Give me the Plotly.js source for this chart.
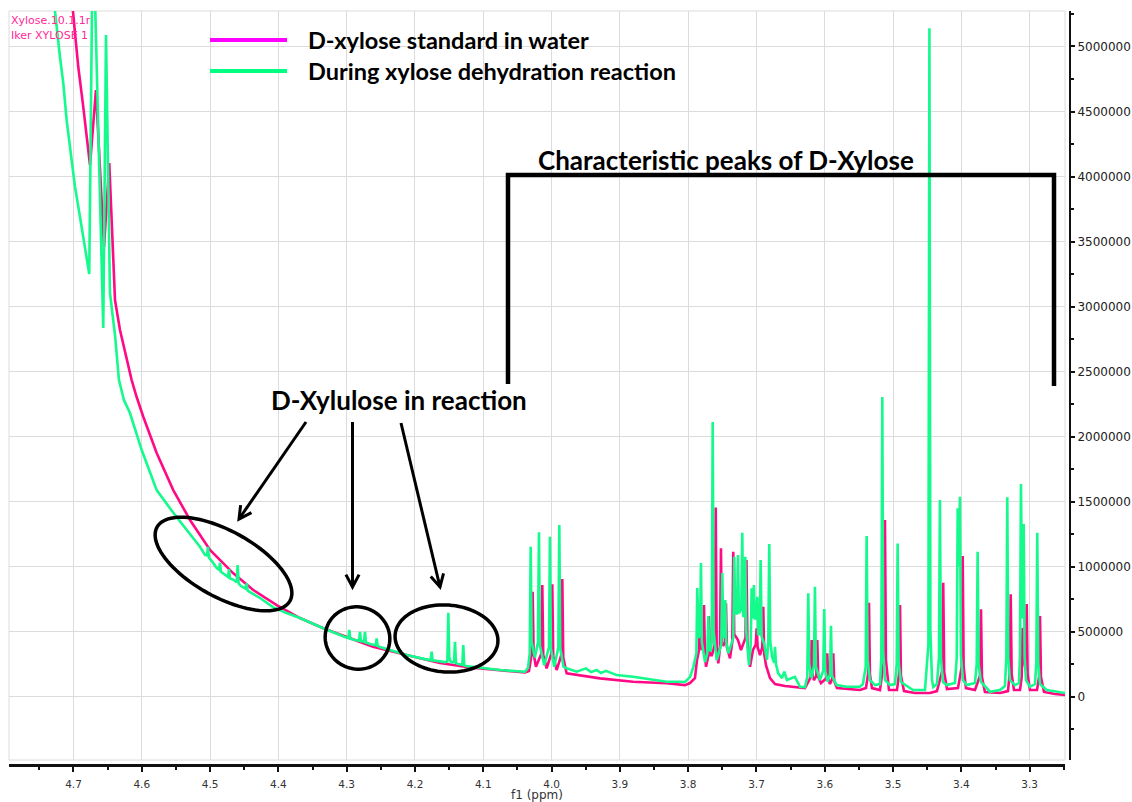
<!DOCTYPE html>
<html>
<head>
<meta charset="utf-8">
<script src="https://cdn.plot.ly/plotly-3.0.1.min.js"></script>
<style>html,body{margin:0;padding:0;background:#fff;}#chart{width:1132px;height:802px;}</style>
</head>
<body>
<div id="chart"></div>
<script>
// ---- Data (chemical shift in ppm, intensity) ----
const standardName = "D-xylose standard in water";
const reactionName = "During xylose dehydration reaction";
const datasetLabels = ["Xylose.10.1.1r", "Iker XYLOSE 1"];

// D-xylose standard (magenta)
const standardSpectrum = [
 [4.7051,5511000],[4.7003,5267000],[4.6978,5104000],[4.6930,4844000],[4.6857,4537000],
 [4.6798,4281000],[4.6758,4088000],[4.6671,4665000],[4.6553,3458000],[4.6476,4104000],
 [4.6392,3050000],[4.6319,2819000],[4.6221,2588000],[4.6148,2434000],[4.6075,2304000],
 [4.5978,2152000],[4.5782,1873000],[4.5539,1588000],[4.5294,1358000],[4.5001,1127000],
 [4.4660,948000],[4.4368,819000],[4.4025,704000],[4.3684,604000],[4.3343,525000],
 [4.3000,460000],[4.2615,383000],[4.2122,319000],[4.1634,258000],[4.1195,223000],
 [4.0756,200000],[4.0389,185000],[4.0331,196000],
 [4.0291,330000],[4.0277,806000],[4.0263,330000],[4.0229,229000],[4.0150,330000],
 [4.0136,858000],[4.0122,320000],[4.0072,217000],[4.0004,330000],[3.9990,863000],
 [3.9976,310000],[3.9926,204000],[3.9857,320000],[3.9843,904000],[3.9829,300000],
 [3.9779,178000],
 [3.9292,140000],[3.8808,114000],[3.8315,102000],[3.8047,88000],[3.7974,104000],
 [3.7901,142000],[3.7871,281000],
 [3.7840,360000],[3.7827,691000],[3.7812,400000],[3.7798,358000],[3.7783,400000],
 [3.7769,704000],[3.7755,330000],[3.7739,229000],[3.7710,300000],[3.7696,619000],
 [3.7682,320000],[3.7652,319000],[3.7611,400000],[3.7597,1455000],[3.7583,400000],
 [3.7559,255000],[3.7534,380000],[3.7520,1140000],[3.7506,400000],[3.7483,396000],
 [3.7461,420000],[3.7447,717000],[3.7433,380000],[3.7388,294000],[3.7354,420000],
 [3.7340,1114000],[3.7326,480000],[3.7271,435000],[3.7227,358000],[3.7161,450000],
 [3.7147,1050000],[3.7133,420000],[3.7095,229000],[3.7051,358000],[3.7011,400000],
 [3.6997,525000],[3.6983,380000],[3.6949,319000],[3.6915,380000],[3.6901,691000],
 [3.6887,330000],[3.6861,242000],[3.6802,142000],[3.6729,96000],[3.6583,81000],
 [3.6363,65000],
 [3.6290,65000],[3.6206,150000],[3.6192,435000],[3.6176,160000],[3.6158,127000],
 [3.6124,160000],[3.6110,435000],[3.6096,150000],[3.6056,104000],[3.5978,140000],
 [3.5964,332000],[3.5950,140000],[3.5924,96000],[3.5890,140000],[3.5876,332000],
 [3.5862,120000],[3.5822,65000],[3.5485,50000],
 [3.5397,65000],[3.5367,170000],[3.5353,722000],[3.5339,170000],[3.5309,65000],
 [3.5192,50000],[3.5133,280000],[3.5119,1358000],[3.5105,280000],[3.5060,50000],
 [3.4943,50000],[3.4913,170000],[3.4899,704000],[3.4885,160000],[3.4840,42000],
 [3.4679,27000],[3.4460,27000],[3.4358,42000],[3.4280,200000],[3.4266,875000],
 [3.4252,190000],[3.4211,58000],[3.4050,65000],[3.3995,230000],[3.3981,1081000],
 [3.3967,230000],[3.3933,65000],[3.3801,50000],[3.3727,160000],[3.3713,671000],
 [3.3699,150000],[3.3655,35000],[3.3435,27000],[3.3318,42000],[3.3292,180000],
 [3.3278,786000],[3.3264,170000],[3.3230,50000],[3.3142,50000],[3.3117,150000],
 [3.3103,529000],[3.3088,260000],[3.3074,250000],[3.3058,200000],[3.3044,712000],
 [3.3030,170000],[3.2996,50000],[3.2893,50000],[3.2863,150000],[3.2849,619000],
 [3.2835,150000],[3.2790,35000],[3.2629,19000],[3.2458,12000]
];

// During xylose dehydration reaction (green)
const reactionSpectrum = [
 [4.7373,5588000],[4.7271,5273000],[4.7198,4921000],[4.7149,4717000],[4.7100,4434000],
 [4.7041,4178000],[4.6978,3921000],[4.6905,3691000],[4.6832,3460000],[4.6769,3250000],
 [4.6715,6000000],[4.6564,2835000],[4.6524,5088000],[4.6466,3104000],[4.6392,2781000],
 [4.6334,2434000],[4.6261,2281000],[4.6173,2181000],[4.6001,1896000],[4.5782,1588000],
 [4.5514,1396000],[4.5343,1281000],[4.5148,1152000],
 [4.5075,1089000],[4.5045,1085000],[4.5031,1152000],[4.5017,1070000],[4.4972,1040000],
 [4.4903,988000],[4.4869,975000],[4.4855,1029000],[4.4841,960000],[4.4811,950000],
 [4.4737,920000],[4.4723,980000],[4.4709,910000],[4.4665,900000],[4.4610,880000],
 [4.4596,1011000],[4.4582,870000],[4.4548,850000],[4.4478,830000],[4.4464,871000],
 [4.4450,815000],[4.4416,804000],[4.4269,758000],[4.4079,688000],[4.3879,642000],
 [4.3684,604000],[4.3343,525000],[4.3025,458000],[4.2976,450000],[4.2962,512000],
 [4.2948,445000],[4.2879,435000],[4.2819,430000],[4.2805,498000],[4.2791,425000],
 [4.2769,425000],[4.2746,420000],[4.2732,498000],[4.2718,415000],[4.2659,405000],
 [4.2575,395000],[4.2561,448000],[4.2547,390000],[4.2513,381000],[4.2122,319000],
 [4.1854,288000],[4.1770,280000],[4.1756,345000],[4.1742,278000],[4.1561,265000],
 [4.1526,270000],[4.1512,645000],[4.1498,300000],[4.1473,265000],[4.1428,265000],
 [4.1414,422000],[4.1400,258000],[4.1371,250000],[4.1307,245000],[4.1293,396000],
 [4.1279,240000],[4.1253,235000],[4.0756,204000],
 [4.0389,191000],[4.0346,219000],[4.0320,330000],[4.0306,1152000],[4.0292,420000],
 [4.0245,300000],[4.0199,420000],[4.0185,1263000],[4.0171,390000],[4.0107,242000],
 [4.0038,380000],[4.0024,1229000],[4.0010,370000],[3.9961,229000],[3.9901,380000],
 [3.9887,1319000],[3.9873,370000],[3.9825,230000],[3.9779,217000],
 [3.9633,191000],[3.9496,217000],[3.9423,188000],[3.9340,204000],[3.9277,181000],
 [3.9204,198000],[3.9047,165000],[3.8808,152000],[3.8559,135000],[3.8315,114000],
 [3.8120,114000],[3.8047,112000],[3.7974,150000],[3.7925,227000],
 [3.7880,330000],[3.7867,835000],[3.7845,450000],[3.7826,500000],[3.7813,1027000],
 [3.7800,420000],[3.7754,265000],[3.7720,330000],[3.7706,619000],[3.7692,360000],
 [3.7670,350000],[3.7655,420000],[3.7641,2111000],[3.7627,500000],[3.7583,281000],
 [3.7515,400000],[3.7501,950000],[3.7487,480000],[3.7470,450000],[3.7457,742000],
 [3.7443,420000],[3.7413,332000],[3.7340,450000],[3.7325,1075000],[3.7311,640000],
 [3.7285,640000],[3.7271,1088000],[3.7257,640000],[3.7222,680000],[3.7208,1260000],
 [3.7194,620000],[3.7176,620000],[3.7164,1075000],[3.7150,500000],[3.7110,242000],
 [3.7085,400000],[3.7071,832000],[3.7057,600000],[3.7037,858000],[3.7025,600000],
 [3.7000,600000],[3.6988,768000],[3.6976,480000],[3.6953,480000],[3.6939,1050000],
 [3.6925,460000],[3.6890,409000],[3.6846,281000],[3.6827,420000],[3.6813,1173000],
 [3.6799,430000],[3.6770,300000],[3.6740,260000],[3.6729,383000],[3.6715,250000],
 [3.6681,178000],[3.6627,142000],[3.6593,191000],[3.6554,127000],[3.6437,152000],
 [3.6363,75000],
 [3.6290,73000],[3.6256,150000],[3.6242,794000],[3.6228,250000],[3.6192,140000],
 [3.6158,240000],[3.6144,845000],[3.6130,230000],[3.6071,127000],[3.6022,200000],
 [3.6008,673000],[3.5994,200000],[3.5958,114000],[3.5923,170000],[3.5909,545000],
 [3.5895,160000],[3.5826,88000],[3.5680,75000],[3.5485,75000],
 [3.5441,96000],[3.5401,230000],[3.5387,1235000],[3.5373,280000],[3.5339,127000],
 [3.5265,88000],[3.5192,96000],[3.5172,300000],[3.5158,2304000],[3.5144,350000],
 [3.5119,127000],[3.5045,88000],[3.4972,96000],[3.4947,250000],[3.4933,1178000],
 [3.4919,260000],[3.4885,112000],[3.4708,50000],[3.4533,50000],[3.4483,400000],
 [3.4468,5140000],[3.4454,500000],[3.4430,127000],[3.4412,73000],[3.4358,96000],
 [3.4328,300000],[3.4314,1511000],[3.4300,300000],[3.4270,112000],[3.4216,88000],
 [3.4094,104000],[3.4068,300000],[3.4054,1448000],[3.4038,1000000],[3.4021,1537000],
 [3.4007,320000],[3.3977,127000],[3.3923,88000],[3.3801,104000],[3.3776,250000],
 [3.3762,1114000],[3.3748,250000],[3.3713,112000],[3.3582,37000],[3.3435,50000],
 [3.3362,81000],[3.3342,300000],[3.3328,1532000],[3.3314,300000],[3.3289,127000],
 [3.3216,88000],[3.3157,104000],[3.3142,320000],[3.3128,1635000],[3.3108,600000],
 [3.3088,1327000],[3.3074,300000],[3.3054,127000],[3.2996,75000],[3.2922,96000],
 [3.2903,260000],[3.2889,1260000],[3.2875,260000],[3.2849,96000],[3.2751,50000],
 [3.2458,25000]
];

const annotationTexts = {
  peaks: "Characteristic peaks of D-Xylose",
  xylulose: "D-Xylulose in reaction"
};

// ---- Layout helpers (pixel position -> paper coordinates) ----
const W = 1132, H = 802;
const M = {l: 9, r: 62, t: 11, b: 37};
const PW = W - M.l - M.r, PH = H - M.t - M.b;
const px = x => (x - M.l) / PW;
const py = y => (H - M.b - y) / PH;

function pathFromPts(pts, close) {
  return pts.map((p, i) => (i ? 'L' : 'M') + px(p[0]).toFixed(5) + ',' + py(p[1]).toFixed(5)).join(' ') + (close ? ' Z' : '');
}
function ellipse(cx, cy, a, b, deg) {
  const th = deg * Math.PI / 180, pts = [];
  for (let i = 0; i < 96; i++) {
    const t = i / 96 * 2 * Math.PI;
    pts.push([cx + a * Math.cos(t) * Math.cos(th) - b * Math.sin(t) * Math.sin(th),
              cy + a * Math.cos(t) * Math.sin(th) + b * Math.sin(t) * Math.cos(th)]);
  }
  return {type: 'path', xref: 'paper', yref: 'paper', path: pathFromPts(pts, true),
          line: {color: '#000', width: 3.5}};
}
function arrow(x0, y0, x1, y1) {
  const dx = x1 - x0, dy = y1 - y0, len = Math.hypot(dx, dy);
  const ux = dx / len, uy = dy / len, L = 14, ang = 28 * Math.PI / 180;
  const rot = (a) => [ux * Math.cos(a) - uy * Math.sin(a), ux * Math.sin(a) + uy * Math.cos(a)];
  const r1 = rot(ang), r2 = rot(-ang);
  return [
    {type: 'path', xref: 'paper', yref: 'paper', path: pathFromPts([[x0, y0], [x1, y1]]), line: {color: '#000', width: 3}},
    {type: 'path', xref: 'paper', yref: 'paper',
     path: pathFromPts([[x1 - L * r1[0], y1 - L * r1[1]], [x1, y1], [x1 - L * r2[0], y1 - L * r2[1]]]),
     line: {color: '#000', width: 3}}
  ];
}

const traces = [
  {x: standardSpectrum.map(p => p[0]), y: standardSpectrum.map(p => p[1]), name: standardName,
   type: 'scatter', mode: 'lines', line: {color: '#ff0a84', width: 2.6}, hoverinfo: 'skip'},
  {x: reactionSpectrum.map(p => p[0]), y: reactionSpectrum.map(p => p[1]), name: reactionName,
   type: 'scatter', mode: 'lines', line: {color: '#14fa8c', width: 2.6}, hoverinfo: 'skip'}
];

const gridColor = '#dcdcdc';
const shapes = [
  {type: 'rect', xref: 'x domain', yref: 'y domain', x0: 0, x1: 1, y0: 0, y1: 1,
   line: {color: gridColor, width: 1}, layer: 'below'},
  {type: 'line', xref: 'paper', yref: 'paper', x0: px(210), x1: px(287), y0: py(40), y1: py(40),
   line: {color: '#ff00ff', width: 4}},
  {type: 'line', xref: 'paper', yref: 'paper', x0: px(210), x1: px(287), y0: py(71), y1: py(71),
   line: {color: '#00ff80', width: 4}},
  {type: 'path', xref: 'paper', yref: 'paper',
   path: pathFromPts([[508, 384], [508, 175], [1054, 175], [1054, 386]]),
   line: {color: '#000', width: 4.5}},
  ellipse(223.5, 564, 76, 33, 29),
  ellipse(357.5, 638, 32.5, 31, 20),
  ellipse(446.5, 638.5, 51.5, 33.5, 4),
  ...arrow(306, 422, 239, 519),
  ...arrow(352.5, 422, 352.5, 587),
  ...arrow(401, 423, 440, 587)
];

const boldFont = (s) => ({family: 'Lato, "Open Sans", sans-serif', size: s, color: '#000', weight: 'bold'});
const annotations = [
  {x: px(9), y: py(20), xref: 'paper', yref: 'paper', text: datasetLabels[0], showarrow: false,
   xanchor: 'left', yanchor: 'middle', font: {family: 'DejaVu Sans', size: 11, color: '#ff2a9a'}},
  {x: px(9), y: py(36), xref: 'paper', yref: 'paper', text: datasetLabels[1], showarrow: false,
   xanchor: 'left', yanchor: 'middle', font: {family: 'DejaVu Sans', size: 11, color: '#ff2a9a'}},
  {x: px(306), y: py(40), xref: 'paper', yref: 'paper', text: standardName, showarrow: false,
   xanchor: 'left', yanchor: 'middle', font: boldFont(23.5)},
  {x: px(306), y: py(71), xref: 'paper', yref: 'paper', text: reactionName, showarrow: false,
   xanchor: 'left', yanchor: 'middle', font: boldFont(23.5)},
  {x: px(726), y: py(160), xref: 'paper', yref: 'paper', text: annotationTexts.peaks, showarrow: false,
   xanchor: 'center', yanchor: 'middle', font: boldFont(26)},
  {x: px(399), y: py(400), xref: 'paper', yref: 'paper', text: annotationTexts.xylulose, showarrow: false,
   xanchor: 'center', yanchor: 'middle', font: boldFont(26)}
];

const layout = {
  width: W, height: H, margin: M, showlegend: false,
  paper_bgcolor: '#fff', plot_bgcolor: '#fff',
  xaxis: {
    domain: [0, (1065 - M.l) / PW], anchor: 'free', position: 0,
    range: [4.7944, 3.2483], dtick: 0.1, tick0: 0, tickformat: '.1f',
    showgrid: true, gridcolor: gridColor, gridwidth: 1, zeroline: false,
    showline: true, linecolor: '#111', linewidth: 2.5,
    ticks: 'outside', ticklen: 5, tickwidth: 2, tickcolor: '#111',
    minor: {dtick: 0.05, ticks: 'outside', ticklen: 3, tickwidth: 2, tickcolor: '#111', showgrid: false},
    tickfont: {family: 'DejaVu Sans', size: 10.5, color: '#333'},
    ticklabelstandoff: 4,
    title: {text: 'f1 (ppm)', standoff: 0, font: {family: 'DejaVu Sans', size: 12, color: '#333'}},
    fixedrange: true
  },
  yaxis: {
    domain: [(H - M.b - 760) / PH, 1], anchor: 'free', position: 1, side: 'right',
    range: [-488000, 5273000], dtick: 500000, tick0: 0, tickformat: 'd',
    showgrid: true, gridcolor: gridColor, gridwidth: 1, zeroline: false,
    showline: true, linecolor: '#111', linewidth: 2,
    ticks: 'outside', ticklen: 4, tickwidth: 2, tickcolor: '#111',
    minor: {dtick: 250000, ticks: 'outside', ticklen: 3, tickwidth: 2, tickcolor: '#111', showgrid: false},
    tickfont: {family: 'DejaVu Sans', size: 12, color: '#222'},
    fixedrange: true
  },
  shapes: shapes,
  annotations: annotations
};

Plotly.newPlot('chart', traces, layout, {displayModeBar: false, staticPlot: true});
</script>
</body>
</html>
